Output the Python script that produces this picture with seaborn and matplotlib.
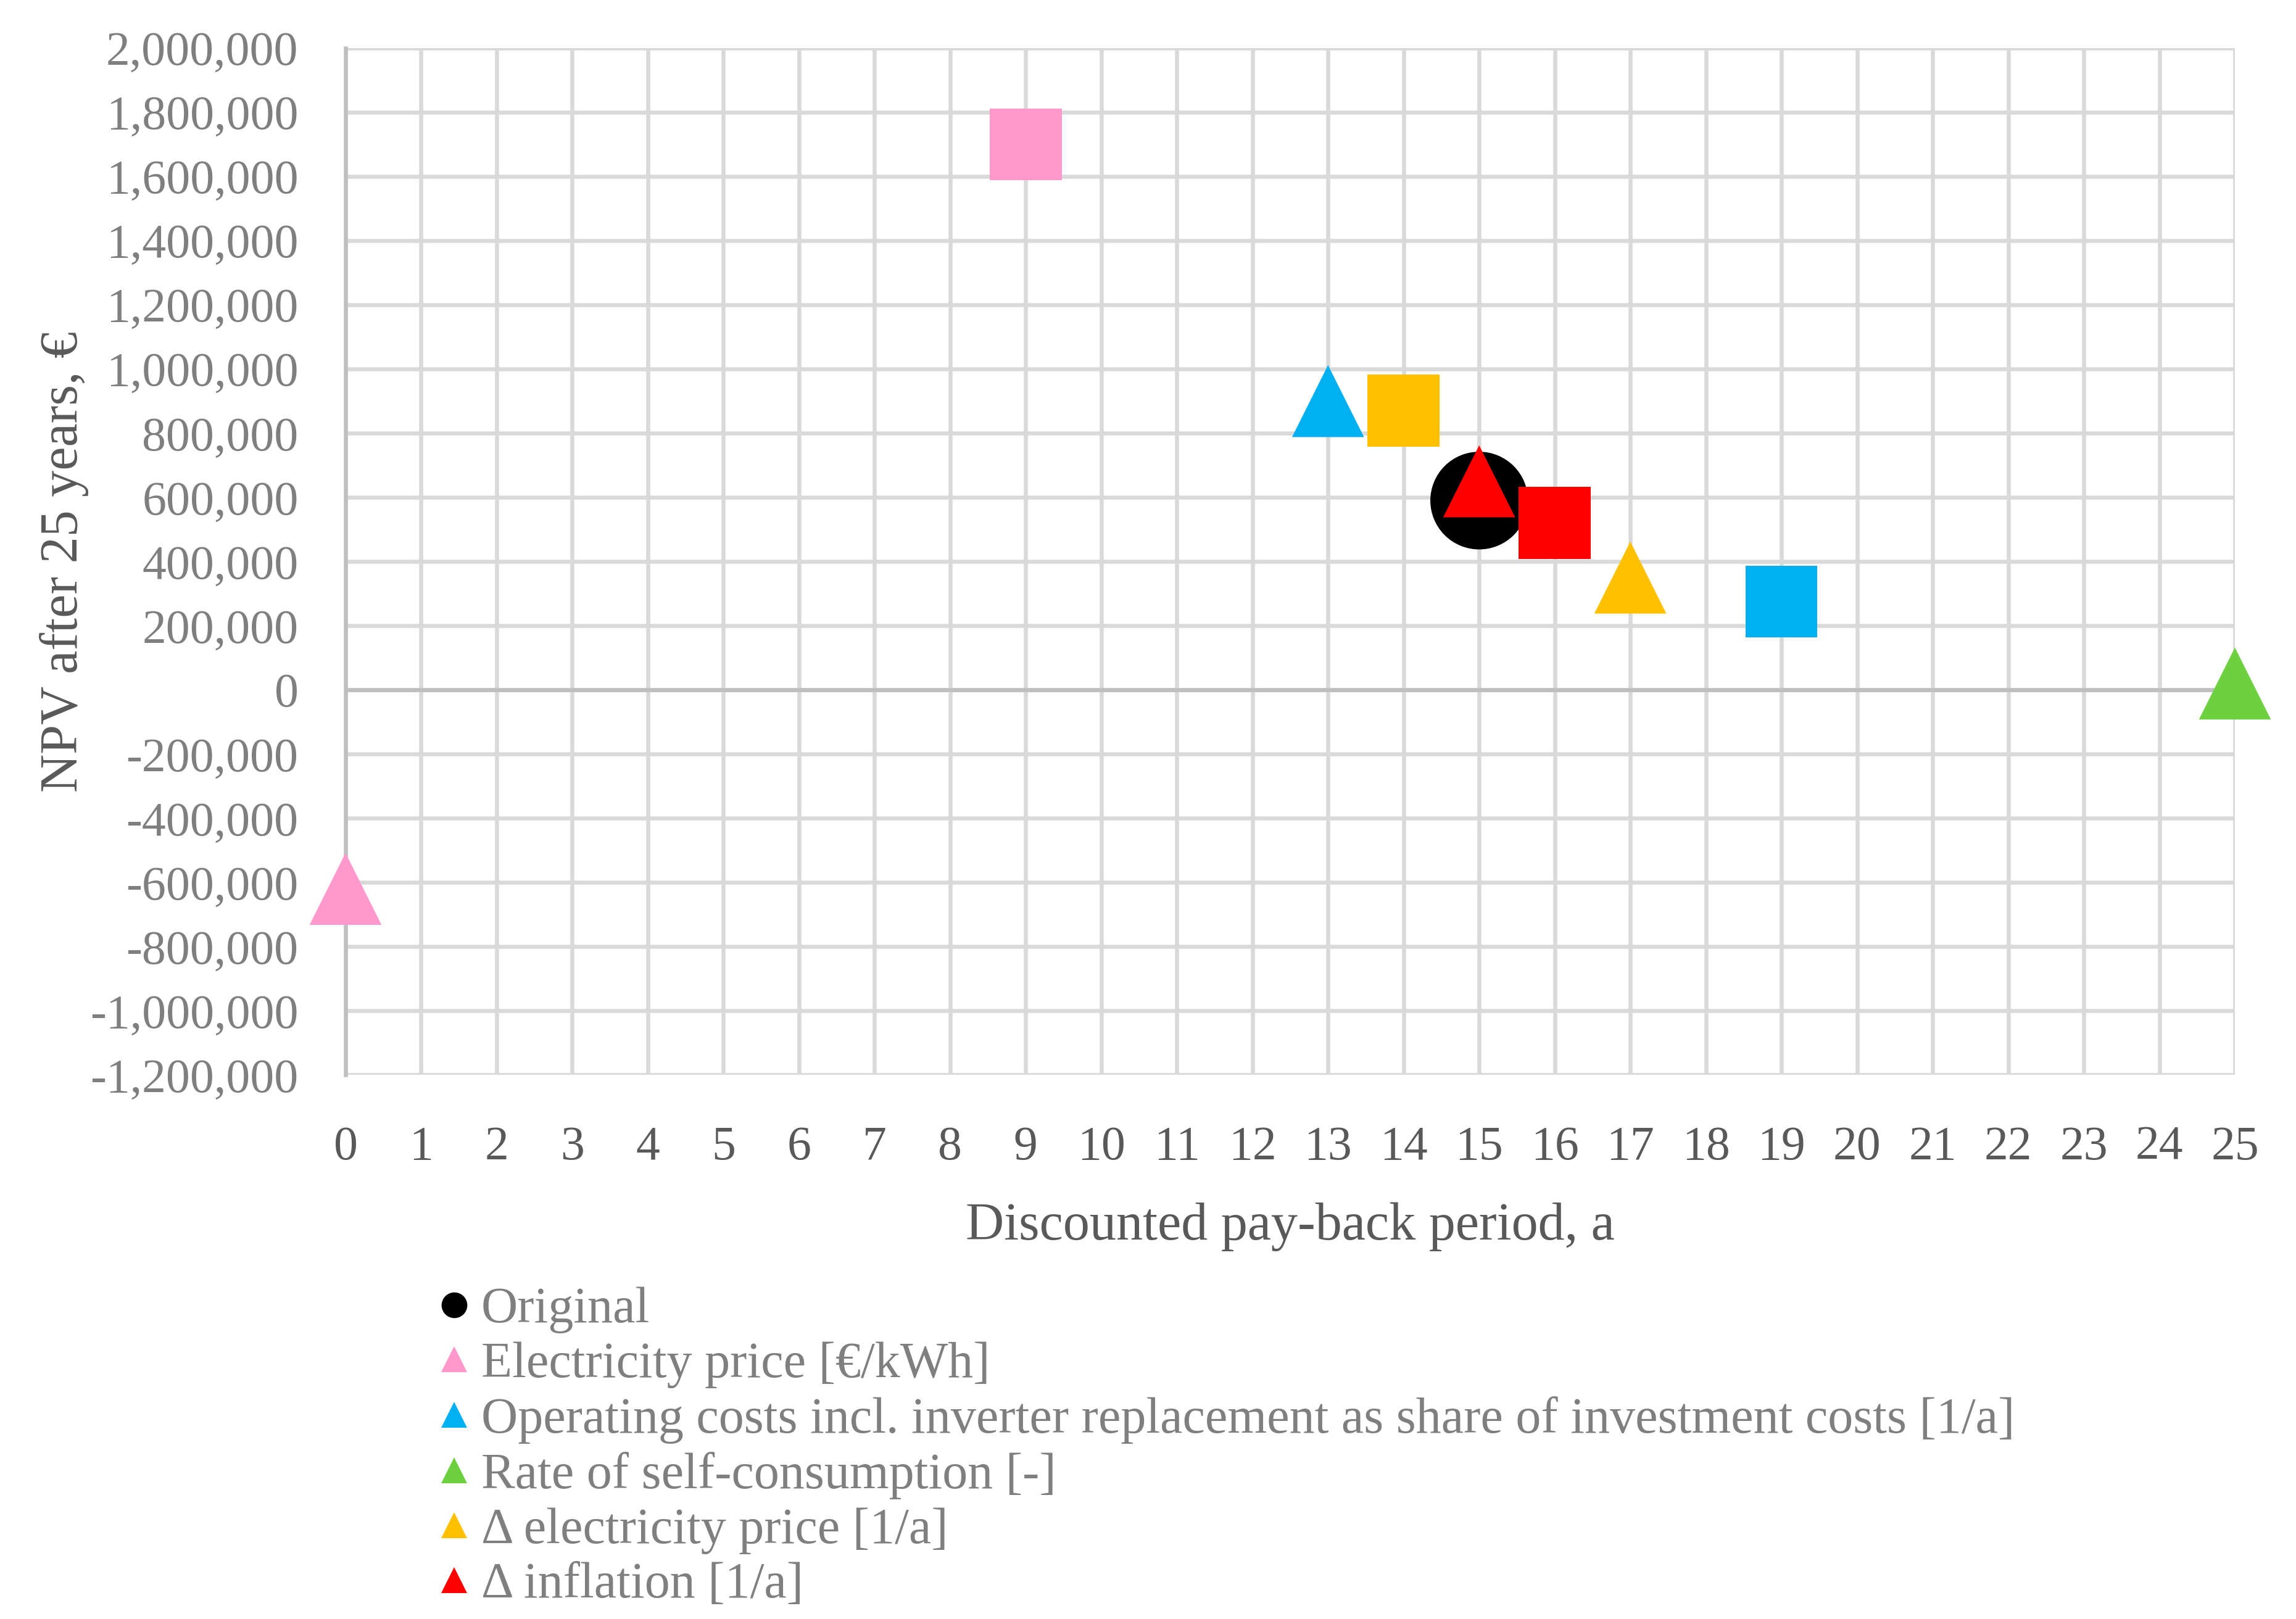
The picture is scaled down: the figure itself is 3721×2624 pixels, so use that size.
import matplotlib
matplotlib.use("Agg")
import matplotlib.pyplot as plt
from matplotlib.lines import Line2D
from matplotlib.ticker import FuncFormatter, MultipleLocator
import pandas as pd
import seaborn as sns

# ──────────────────────────────────────────────
# Data
# ──────────────────────────────────────────────

scenarios = [
    "Original",
    "Electricity price [€/kWh]",
    "Operating costs incl. inverter replacement as share of investment costs [1/a]",
    "Rate of self-consumption [-]",
    "Δ electricity price [1/a]",
    "Δ inflation [1/a]",
]
colors = ["#000000", "#FF99CC", "#00B0F0", "#6DD03F", "#FFC000", "#FF0000"]

# one row per plotted point, drawn in this order
point_scenario = [0, 1, 1, 2, 2, 3, 4, 4, 5, 5]
point_shape = ["circle", "triangle", "square", "triangle", "square",
               "triangle", "square", "triangle", "triangle", "square"]
payback_years = [15, 0, 9, 13, 19, 25, 14, 17, 15, 16]
npv_eur = [590000, -620000, 1700000, 900000, 275000,
           20000, 870000, 350000, 650000, 520000]

x_ticks = list(range(0, 26))
y_ticks = list(range(-1200000, 2000001, 200000))

df = pd.DataFrame({
    "scenario": [scenarios[i] for i in point_scenario],
    "shape": point_shape,
    "payback": payback_years,
    "npv": npv_eur,
})

# ──────────────────────────────────────────────
# Plot
# ──────────────────────────────────────────────

sns.set_theme(style="white")
plt.rcParams["font.family"] = ["Liberation Serif", "DejaVu Serif"]

GRID = "#D9D9D9"
AXIS = "#BFBFBF"
FS = 56

fig = plt.figure(figsize=(37.21, 26.24), dpi=100)
ax = fig.add_axes([0.1505, 0.3360, 0.8229, 0.6343])

sns.scatterplot(
    data=df, x="payback", y="npv",
    hue="scenario", palette=dict(zip(scenarios, colors)),
    style="shape", markers={"circle": "o", "triangle": "^", "square": "s"},
    size="shape", sizes={"circle": 114 ** 2, "triangle": 84 ** 2, "square": 84 ** 2},
    linewidth=0, edgecolor="none", legend=False, clip_on=False, zorder=5, ax=ax,
)

ax.set_xlim(0, 25)
ax.set_ylim(-1200000, 2000000)
ax.xaxis.set_major_locator(MultipleLocator(1))
ax.set_xticks(x_ticks)
ax.set_yticks(y_ticks)
ax.yaxis.set_major_formatter(FuncFormatter(lambda v, p: f"{v:,.0f}"))

ax.grid(True, color=GRID, linewidth=4.7, zorder=0)
ax.set_axisbelow(True)
ax.axhline(0, color=AXIS, linewidth=4.7, zorder=1)
for side in ["top", "right", "bottom"]:
    ax.spines[side].set_visible(False)
ax.spines["left"].set_color(AXIS)
ax.spines["left"].set_linewidth(4.7)
ax.spines["left"].set_zorder(1)

ax.tick_params(axis="x", length=0, pad=59, labelsize=FS, labelcolor="#595959")
ax.tick_params(axis="y", length=0, pad=55, labelsize=FS, labelcolor="#7F7F7F")

ax.set_xlabel("Discounted pay-back period, a", fontsize=62, color="#595959")
ax.set_ylabel("NPV after 25 years, €", fontsize=62, color="#595959")
ax.xaxis.set_label_coords(0.5, -0.124)
ax.yaxis.set_label_coords(-0.136, 0.5)

handles = [
    Line2D([], [], linestyle="none", marker="o" if i == 0 else "^",
           markersize=30, color=c, markeredgewidth=0)
    for i, c in enumerate(colors)
]
leg = fig.legend(
    handles, scenarios, loc="upper left", bbox_to_anchor=(0.1915, 0.2051),
    frameon=False, fontsize=59, handlelength=0.57, handletextpad=0.25,
    labelspacing=0.16, borderpad=0, borderaxespad=0,
)
for t in leg.get_texts():
    t.set_color("#7F7F7F")

fig.savefig("out.png", dpi=100)
